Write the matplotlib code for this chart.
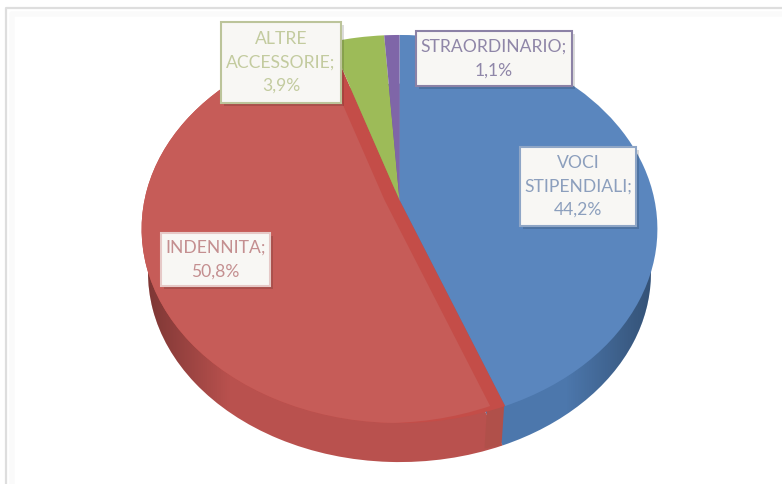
import numpy as np
import matplotlib
matplotlib.use("Agg")
import matplotlib.pyplot as plt
from matplotlib.patches import Rectangle, Wedge
from matplotlib.transforms import Transform, Affine2D

categories = ["VOCI\nSTIPENDIALI", "INDENNITA", "ALTRE\nACCESSORIE", "STRAORDINARIO"]
values = [44.2, 50.8, 3.9, 1.1]

top_colors = ["#5a86be", "#c65c58", "#9dbb58", "#7f66a8"]
wall_colors = ["#4c77ac", "#b9514e", "#8aa54c", "#6d5892"]
cut_colors = "#c44d48"
cut_wall_color = "#b0504a"
text_colors = ["#8c9fbd", "#c48f90", "#c3cb9f", "#8f86a8"]
edge_colors = ["#8fa6c6", "#e6c9c7", "#bcc49a", "#8c82a6"]
boxes = [(520, 147, 116, 79), (161, 233, 109, 53), (221, 22, 120, 81), (416, 31, 156, 55)]
line_gap = 1.58


class Perspective(Transform):
    """Maps the unit circle of the pie on to the tilted disc in pixels."""
    input_dims = output_dims = 2

    def __init__(self, cx=399.5, cy=200.0, a=255.0, b=189.7, c=0.1495):
        super().__init__()
        self.cx, self.cy, self.a, self.b, self.c = cx, cy, a, b, c

    def transform_non_affine(self, xy):
        xy = np.asarray(xy, float)
        w = 1 + self.c * xy[:, 1]
        return np.column_stack((self.cx + self.a * xy[:, 0] / w,
                                self.cy - self.b * xy[:, 1] / w))


fig = plt.figure(figsize=(7.82, 4.84), dpi=100, facecolor="white")
ax = fig.add_axes([0, 0, 1, 1])
plt.rcParams["font.family"] = ["Lato", "DejaVu Sans"]

proj = Perspective()
lower = Affine2D().translate(-399.5, -200).scale(0.975).translate(399.5, 200 + 44.6)

walls, _ = ax.pie(values, startangle=90, counterclock=False, colors=wall_colors)
tops, _ = ax.pie(values, startangle=90, counterclock=False, colors=top_colors)
ax.set_aspect("auto")

for w in walls:
    w.set_transform(proj + lower + ax.transData)
    w.set_zorder(1)
for w in tops:
    w.set_transform(proj + ax.transData)
    w.set_zorder(3)

# the wall of the cut between the blue and the red slice runs straight down
theta = np.deg2rad(walls[0].theta1)
rim = np.array([[np.cos(theta), np.sin(theta)]])
p_top = proj.transform(rim)[0]
p_bot = lower.transform(p_top[None, :])[0]
ax.fill([p_top[0] - 1, p_bot[0] - 1, p_bot[0] - 18, p_top[0] - 18],
        [p_top[1], p_bot[1], p_bot[1] + 3, p_top[1]],
        color=cut_wall_color, lw=0, zorder=1.5)

# darkening of the side wall towards both ends of the disc
xs = np.linspace(0, 1, 256)
alpha = np.clip(0.34 - xs * 2.0, 0, 1) + np.clip((xs - 0.82) * 1.9, 0, 1)
shade = np.zeros((1, 256, 4))
shade[..., 3] = alpha
for w in walls[:2]:
    im = ax.imshow(shade, extent=(142, 660, 484, 0), aspect="auto", zorder=2)
    im.set_clip_path(w.get_path(), w.get_transform())

# cut face of the red slice: its top surface sits slightly to the left
red = tops[1]
red.set_facecolor(cut_colors)
surface = Wedge((0, 0), 1, red.theta1, red.theta2, facecolor=top_colors[1], linewidth=0, zorder=4)
ax.add_patch(surface)
surface.set_transform(proj + Affine2D().translate(-15, 0) + ax.transData)
surface.set_clip_path(red.get_path(), red.get_transform())

# chart frame: only top and left edges remain visible
ax.plot([12, 12, 782], [484, 14, 14], color="#fafafa", lw=4, zorder=0)
ax.plot([6, 6, 782], [484, 8, 8], color="#dedede", lw=1.6, zorder=0)

for cat, val, (x, y, w, h), tc, ec in zip(categories, values, boxes, text_colors, edge_colors):
    ax.add_patch(Rectangle((x + 3, y + 3), w, h, facecolor="black", alpha=0.14, lw=0, zorder=5))
    ax.add_patch(Rectangle((x, y), w, h, facecolor="#f8f7f4", edgecolor=ec, lw=1.5, zorder=6))
    label = f"{cat};\n{val:.1f}%".replace(".", ",")
    ax.text(x + w / 2, y + h / 2, label, ha="center", va="center", ma="center",
            fontsize=12.6, color=tc, linespacing=line_gap, zorder=7)

ax.set_xlim(0, 782)
ax.set_ylim(484, 0)
ax.set_axis_off()
fig.savefig("out.png", dpi=100, facecolor="white")
